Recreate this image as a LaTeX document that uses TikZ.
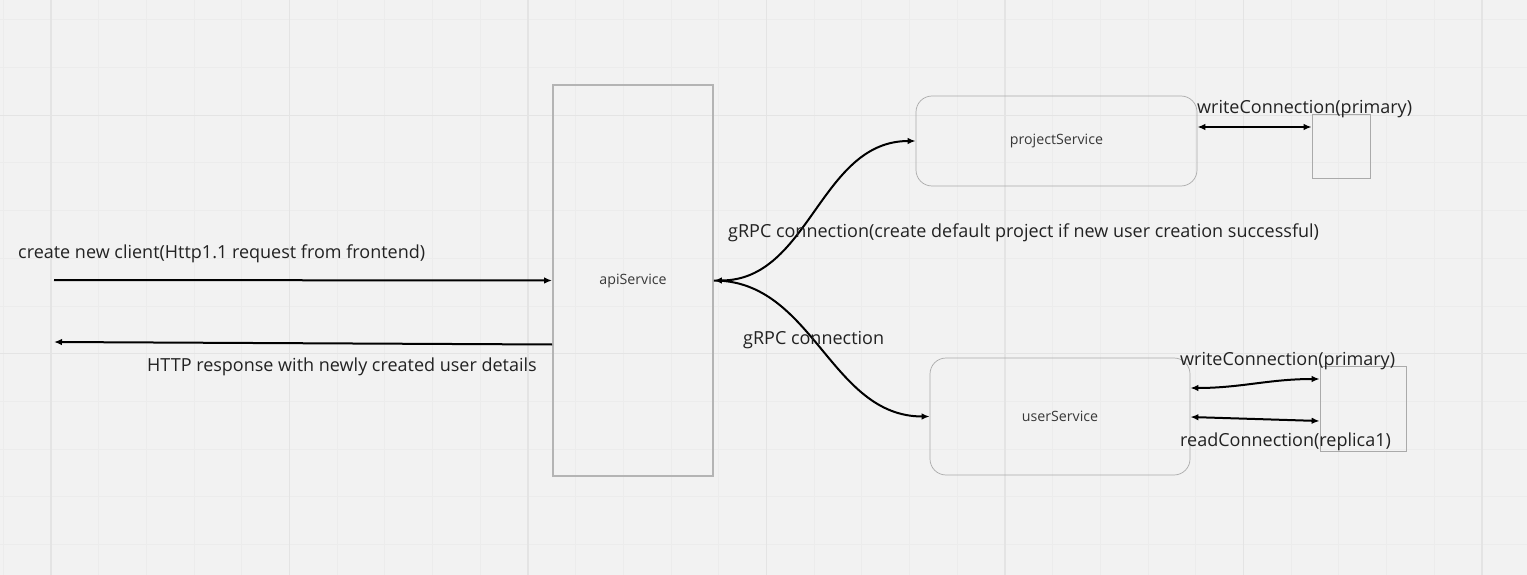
\documentclass[tikz,border=0pt]{standalone}
\usepackage{fontspec}
\setmainfont{Open Sans}
\usepackage{tikz}
\usetikzlibrary{arrows.meta,positioning}
\definecolor{canvas}{RGB}{242,242,242}
\definecolor{gridminor}{RGB}{236,236,236}
\definecolor{gridmajor}{RGB}{228,228,228}
\definecolor{boxline}{RGB}{180,180,180}
\definecolor{thinline}{RGB}{170,170,170}
\definecolor{inktext}{RGB}{34,34,34}

\begin{document}
\begin{tikzpicture}[
        x=1pt, y=-1pt,
        svc/.style={draw=thinline, line width=0.7pt, rounded corners=16pt, font=\fontsize{14.2}{17}\selectfont, text=inktext!90},
        apibox/.style={draw=boxline, line width=1.8pt, minimum width=160pt, minimum height=391pt, font=\fontsize{14.2}{17}\selectfont, text=inktext!90},
        dbbox/.style={draw=thinline, line width=0.7pt},
        lbl/.style={font=\fontsize{18}{21}\selectfont, text=inktext, inner sep=0pt},
        arrow/.style={-{Latex[length=8pt,width=6.5pt]}, line width=2pt, black}
    ]
        \useasboundingbox (0,0) rectangle (1527,575);
        \fill[canvas] (0,0) rectangle (1527,575);

        % grid
        \foreach \i in {0,...,31}
            \draw[gridminor, line width=1pt] ({3.3+47.7*\i},0) -- ++(0,575);
        \foreach \i in {0,...,11}
            \draw[gridminor, line width=1pt] (0,{19.9+47.7*\i}) -- ++(1527,0);
        \foreach \i in {0,...,6}
            \draw[gridmajor, line width=1.3pt] ({51+238.5*\i},0) -- ++(0,575);
        \foreach \i in {0,1}
            \draw[gridmajor, line width=1.3pt] (0,{115.3+238.5*\i}) -- ++(1527,0);

        % services
        \node[apibox] (api) at (633, 280.5) {apiService};
        \node[svc, minimum width=281pt, minimum height=90pt] (proj) at (1056.5, 141) {projectService};
        \node[svc, minimum width=260pt, minimum height=117pt] (user) at (1060, 416.5) {userService};

        % databases
        \node[dbbox, minimum width=58pt, minimum height=64pt] (projdb) at (1341, 146) {};
        \node[dbbox, minimum width=86pt, minimum height=85pt] (userdb) at (1363, 408.5) {};

        % frontend side
        \coordinate (client) at (54, 280);
        \coordinate (clientback) at (54, 342);

        \draw[arrow] (client) -- (api.west);
        \draw[arrow] ([yshift=-64pt]api.west) -- (clientback);

        \draw[arrow, {Latex[length=8pt,width=6.5pt]}-{Latex[length=8pt,width=6.5pt]}] (api.east) to[out=0, in=180] (proj.west);
        \draw[arrow] (api.east) to[out=0, in=180] (user.west);

        \draw[arrow, {Latex[length=8pt,width=6.5pt]}-{Latex[length=8pt,width=6.5pt]}] ([yshift=14pt]proj.east) -- ([yshift=19pt]projdb.west);
        \draw[arrow, {Latex[length=8pt,width=6.5pt]}-{Latex[length=8pt,width=6.5pt]}] ([yshift=28.5pt]user.east) to[out=0, in=180] ([yshift=29.5pt]userdb.west);
        \draw[arrow, {Latex[length=8pt,width=6.5pt]}-{Latex[length=8pt,width=6.5pt]}] ([yshift=-0.5pt]user.east) -- ([yshift=-12.5pt]userdb.west);

        % labels
        \node[lbl, anchor=west] (reqlbl) at (18, 253.5) {create new client(Http1.1 request from frontend)};
        \node[lbl, anchor=west] (reslbl) at (147, 366.5) {HTTP response with newly created user details};
        \node[lbl, anchor=west] (projlbl) at (728, 232.5) {gRPC connection(create default project if new user creation successful)};
        \node[lbl, anchor=west] (userlbl) at (743, 340.5) {gRPC connection};
        \node[lbl, anchor=west] (pwlbl) at (1197, 109.5) {writeConnection(primary)};
        \node[lbl, anchor=west] (uwlbl) at (1180, 361.5) {writeConnection(primary)};
        \node[lbl, anchor=west] (urlbl) at (1180, 441.5) {readConnection(replica1)};
    \end{tikzpicture}
\end{document}
